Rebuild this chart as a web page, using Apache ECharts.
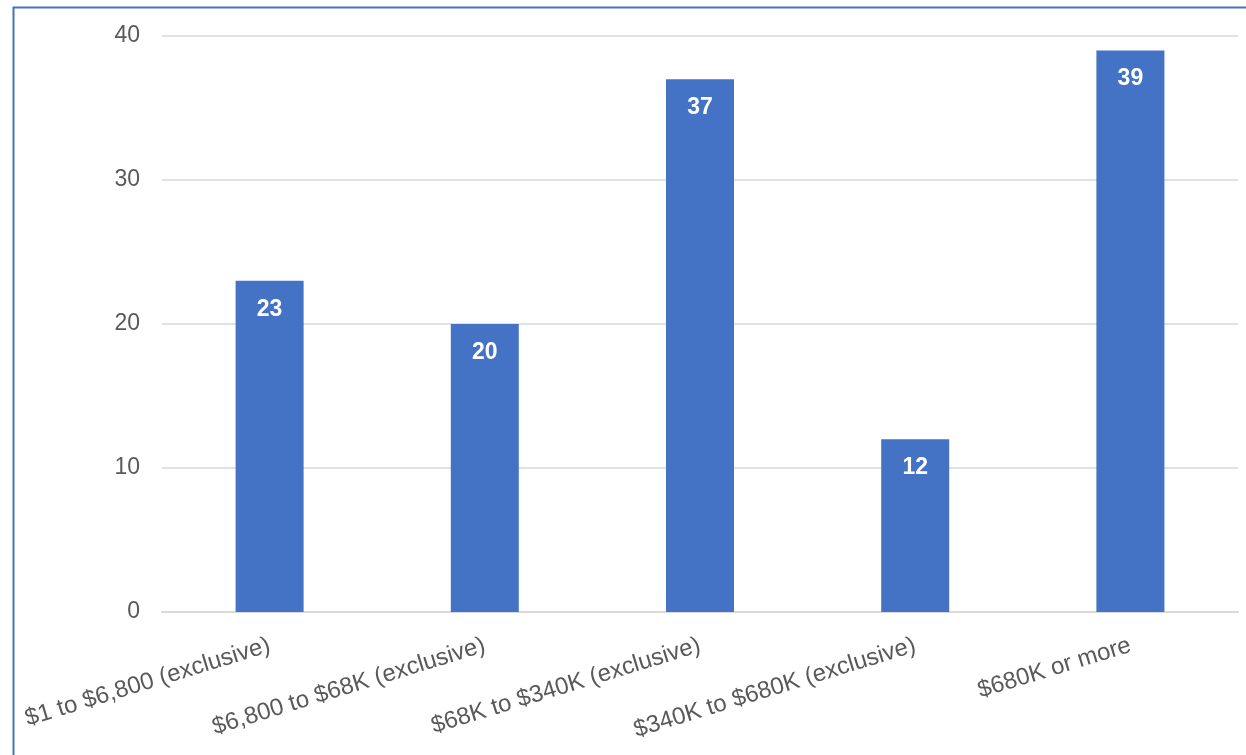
<!DOCTYPE html>
<html>
<head>
<meta charset="utf-8">
<script src="https://cdn.jsdelivr.net/npm/echarts@6/dist/echarts.min.js"></script>
<style>
  html, body { margin: 0; padding: 0; background: #fff; }
  #chart { width: 1246px; height: 755px; }
</style>
</head>
<body>
<div id="chart"></div>
<script>
// Revenue bands and the count in each band
const categories = [
  '$1 to $6,800 (exclusive)',
  '$6,800 to $68K (exclusive)',
  '$68K to $340K (exclusive)',
  '$340K to $680K (exclusive)',
  '$680K or more'
];
const counts = [23, 20, 37, 12, 39];
const yTicks = { min: 0, max: 40, interval: 10 };

const chart = echarts.init(document.getElementById('chart'), null, { renderer: 'canvas' });

const textFont = 'Liberation Sans, Arial, sans-serif';

chart.setOption({
  animation: false,
  backgroundColor: '#ffffff',
  graphic: [{
    type: 'rect',
    left: 11, top: 5,
    shape: { width: 1260, height: 800 },
    style: { fill: 'none', stroke: '#4472c4', lineWidth: 2 },
    silent: true
  }],
  grid: { left: 162, right: 8, top: 36, bottom: 143, containLabel: false },
  xAxis: {
    type: 'category',
    data: categories,
    axisLine: { show: true, lineStyle: { color: '#d9d9d9', width: 2 } },
    axisTick: { show: false },
    axisLabel: {
      rotate: 17,
      interval: 0,
      margin: 33,
      color: '#595959',
      fontFamily: textFont,
      fontSize: 24
    }
  },
  yAxis: {
    type: 'value',
    min: yTicks.min,
    max: yTicks.max,
    interval: yTicks.interval,
    axisLine: { show: false },
    axisTick: { show: false },
    splitLine: { lineStyle: { color: '#d9d9d9', width: 1.5 } },
    axisLabel: {
      margin: 22,
      color: '#595959',
      fontFamily: textFont,
      fontSize: 23
    }
  },
  series: [{
    type: 'bar',
    data: counts,
    barWidth: '31.6%',
    itemStyle: { color: '#4472c4' },
    label: {
      show: true,
      position: 'insideTop',
      distance: 17,
      color: '#ffffff',
      fontWeight: 'bold',
      fontFamily: textFont,
      fontSize: 23
    }
  }]
});
</script>
</body>
</html>
